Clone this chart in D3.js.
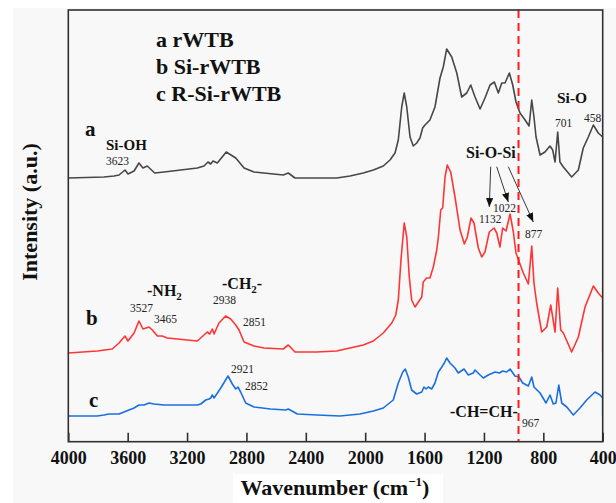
<!DOCTYPE html>
<html>
<head>
<meta charset="utf-8">
<script src="https://cdn.jsdelivr.net/npm/d3@7"></script>
<style>
  html, body { margin: 0; padding: 0; background: #ffffff; }
  svg { display: block; }
  text { font-family: "Liberation Serif", "Times New Roman", "DejaVu Serif", serif; }
</style>
</head>
<body>
<svg id="chart" width="616" height="503"></svg>
<script>
// ---------------- data ----------------
const xTicks = [4000, 3600, 3200, 2800, 2400, 2000, 1600, 1200, 800, 400];

const seriesNames = ["a rWTB", "b Si-rWTB", "c R-Si-rWTB"];

// rWTB (curve a)
const waveA = [4000,3760,3692,3658,3618,3598,3557,3524,3497,3468,3418,3355,3131,3086,3059,3041,3025,2996,2936,2872,2816,2749,2682,2552,2518,2473,2327,2192,2102,2013,1945,1878,1833,1799,1777,1754,1737,1720,1698,1676,1653,1631,1613,1597,1564,1530,1496,1474,1451,1417,1383,1350,1316,1289,1260,1226,1193,1159,1130,1103,1080,1058,1029,1006,984,957,923,896,878,863,849,822,789,755,737,721,703,688,665,609,564,531,497,463,430,400];
const intA = [264,265,266,267,272,268,271,279,274,276,269,270,274,276,280,278,281,279,290,284,274,270,269,267,269,264,264,264,266,269,272,276,282,289,302,335,349,335,305,296,299,304,314,317,322,335,364,375,393,385,369,345,349,357,345,333,344,357,360,349,359,359,369,357,340,329,322,316,342,325,305,287,290,296,292,280,310,280,275,265,272,294,305,317,309,305];

// Si-rWTB (curve b)
const waveB = [4000,3805,3704,3658,3618,3598,3557,3524,3497,3456,3434,3400,3367,3333,3131,3108,3064,3047,3030,3018,2985,2940,2906,2872,2850,2816,2749,2682,2552,2518,2473,2327,2192,2102,2013,1945,1878,1821,1794,1777,1759,1737,1720,1703,1687,1664,1642,1619,1609,1586,1564,1541,1518,1507,1491,1478,1462,1447,1424,1395,1361,1332,1312,1287,1267,1238,1215,1193,1164,1132,1114,1092,1074,1051,1024,1002,984,962,935,901,878,863,845,811,777,750,721,703,683,665,609,564,519,463,430,400,400];
const intB = [89,91,93,99,106,101,109,121,113,115,112,106,106,104,101,104,110,108,113,108,119,126,123,117,112,100,96,94,93,97,90,90,91,94,97,101,109,119,127,142,182,219,205,165,142,135,140,145,160,164,164,175,192,205,232,234,265,277,270,245,212,198,205,224,219,194,185,190,210,214,209,195,214,211,228,210,189,180,169,158,196,159,139,110,115,137,110,154,112,109,90,105,135,156,149,144,90];

// R-Si-rWTB (curve c)
const waveC = [4000,3805,3760,3726,3658,3625,3591,3557,3524,3490,3456,3423,3355,3131,3108,3074,3052,3041,3030,3018,2973,2924,2895,2872,2857,2839,2805,2749,2637,2535,2518,2457,2323,2170,2035,1945,1878,1811,1777,1747,1730,1710,1687,1653,1619,1604,1590,1575,1552,1530,1507,1484,1467,1451,1429,1395,1373,1334,1305,1272,1260,1226,1204,1171,1125,1096,1074,1047,1024,991,964,939,901,878,863,822,782,755,733,715,696,676,642,598,553,508,452,418,400,400];
const intC = [26,26,27,28,28,30,32,34,37,37,39,38,37,37,38,42,43,44,47,44,54,66,58,53,55,50,39,35,33,32,33,28,27,26,28,31,34,42,59,70,73,65,52,48,50,55,53,55,53,59,70,75,79,84,79,74,69,73,67,69,72,67,64,67,70,69,71,70,73,66,65,59,56,65,55,49,39,47,38,39,57,39,35,27,34,42,50,47,44,26];

const markerWave = 967;

// ---------------- layout ----------------
const FONT = "'Liberation Serif', 'Times New Roman', 'DejaVu Serif', serif";
const svg = d3.select("#chart").attr("font-family", FONT);
const W = 616, H = 503;
const pL = 68.3, pR = 602.7, pT = 10, pB = 441.7;

const x = d3.scaleLinear().domain([4000, 400]).range([pL, pR]);
const y = d3.scaleLinear().domain([0, 432]).range([442, 10]);

// backgrounds
svg.append("rect").attr("x", 0).attr("y", 0).attr("width", W).attr("height", H).attr("fill", "#ffffff");
svg.append("rect").attr("x", 13).attr("y", 8).attr("width", W - 13).attr("height", H - 8).attr("fill", "#f8f8f8");
svg.append("rect").attr("x", 233).attr("y", 474).attr("width", 210).attr("height", H - 474).attr("fill", "#ffffff");

const defs = svg.append("defs");
defs.append("clipPath").attr("id", "plotclip")
  .append("rect").attr("x", pL).attr("y", pT).attr("width", pR - pL).attr("height", pB - pT);

defs.append("marker").attr("id", "arrow").attr("viewBox", "0 0 10 10")
  .attr("refX", 10).attr("refY", 5).attr("markerWidth", 9).attr("markerHeight", 9)
  .attr("markerUnits", "userSpaceOnUse").attr("orient", "auto")
  .append("path").attr("d", "M0,1 L10,5 L0,9 Z").attr("fill", "#111");

const line = d3.line().x(d => x(d[0])).y(d => y(d[1]));

const series = [
  { w: waveA, v: intA, color: "#474747" },
  { w: waveB, v: intB, color: "#ff3535" },
  { w: waveC, v: intC, color: "#1a6fe0" }
];

const g = svg.append("g").attr("clip-path", "url(#plotclip)");
series.forEach(s => {
  g.append("path")
    .datum(s.w.map((w, i) => [w, s.v[i]]))
    .attr("d", line)
    .attr("fill", "none")
    .attr("stroke", s.color)
    .attr("stroke-width", 1.6)
    .attr("stroke-linejoin", "round");
});

// dashed marker line
svg.append("line")
  .attr("x1", x(markerWave)).attr("x2", x(markerWave))
  .attr("y1", pT).attr("y2", pB)
  .attr("stroke", "#ff1a1a").attr("stroke-width", 2)
  .attr("stroke-dasharray", "8,5");

// frame
svg.append("rect").attr("x", pL).attr("y", pT)
  .attr("width", pR - pL).attr("height", pB - pT)
  .attr("fill", "none").attr("stroke", "#303030").attr("stroke-width", 1.6);

// x axis
const xAxis = d3.axisBottom(x).tickValues(xTicks).tickSize(-9).tickPadding(10).tickFormat(d3.format("d"));
const ax = svg.append("g").attr("transform", `translate(0,${pB})`).call(xAxis);
ax.attr("font-family", FONT);
ax.select(".domain").remove();
ax.selectAll(".tick line").attr("stroke", "#303030").attr("stroke-width", 1.6);
ax.selectAll(".tick text")
  .attr("fill", "#111")
  .style("font-family", FONT)
  .style("font-size", "18px").style("font-weight", "bold");

// axis titles
const xt = svg.append("text").attr("x", 335).attr("y", 495).attr("text-anchor", "middle")
  .style("font-family", FONT)
  .style("font-size", "22px").style("font-weight", "bold").attr("fill", "#111");
xt.append("tspan").text("Wavenumber (cm");
xt.append("tspan").attr("dy", -9).style("font-size", "13px").text("\u22121");
xt.append("tspan").attr("dy", 9).text(")");

svg.append("text").attr("transform", "translate(37,212) rotate(-90)")
  .attr("text-anchor", "middle")
  .style("font-family", FONT)
  .style("font-size", "22px").style("font-weight", "bold").attr("fill", "#111")
  .text("Intensity (a.u.)");

// legend text
seriesNames.forEach((n, i) => {
  svg.append("text").attr("x", 156).attr("y", 47 + i * 27)
    .style("font-family", FONT)
    .style("font-size", "22px").style("font-weight", "bold").attr("fill", "#111").text(n);
});

// curve letters
const letters = [["a", 85, 136], ["b", 86, 325], ["c", 89, 407]];
letters.forEach(l => {
  svg.append("text").attr("x", l[1]).attr("y", l[2])
    .style("font-family", FONT)
    .style("font-size", "21px").style("font-weight", "bold").attr("fill", "#111").text(l[0]);
});

// bold group labels
function boldLabel(txt, px, py, size) {
  return svg.append("text").attr("x", px).attr("y", py)
    .style("font-family", FONT)
    .style("font-size", size + "px").style("font-weight", "bold").attr("fill", "#111").text(txt);
}
boldLabel("Si-OH", 106, 150, 15);
boldLabel("Si-O", 557, 103, 15.5);
boldLabel("Si-O-Si", 466, 158, 16);
boldLabel("-CH=CH-", 450, 417, 16);

const nh = svg.append("text").attr("x", 147).attr("y", 296)
  .style("font-family", FONT)
  .style("font-size", "16px").style("font-weight", "bold").attr("fill", "#111");
nh.append("tspan").text("-NH");
nh.append("tspan").attr("dy", 4).style("font-size", "11px").text("2");

const ch = svg.append("text").attr("x", 222).attr("y", 289)
  .style("font-family", FONT)
  .style("font-size", "16px").style("font-weight", "bold").attr("fill", "#111");
ch.append("tspan").text("-CH");
ch.append("tspan").attr("dy", 4).style("font-size", "11px").text("2");
ch.append("tspan").attr("dy", -4).text("-");

// peak numbers
const peakLabels = [
  ["3623", 106, 165], ["3527", 130, 312], ["3465", 154, 323],
  ["2938", 213, 304], ["2851", 243, 326], ["2921", 231, 373], ["2852", 245, 390],
  ["1132", 479, 223], ["1022", 493, 212], ["877", 525, 238],
  ["701", 555, 127], ["458", 584, 122], ["967", 522, 427]
];
peakLabels.forEach(p => {
  svg.append("text").attr("x", p[1]).attr("y", p[2])
    .style("font-family", FONT)
    .style("font-size", "11.5px").attr("fill", "#222").text(p[0]);
});

// arrows for Si-O-Si
const arrows = [[490.7, 166.7, 489.3, 207], [496.7, 166.7, 508.3, 202], [508.3, 166.7, 533.3, 222]];
arrows.forEach(a => {
  svg.append("line").attr("x1", a[0]).attr("y1", a[1]).attr("x2", a[2]).attr("y2", a[3])
    .attr("stroke", "#222").attr("stroke-width", 0.9).attr("marker-end", "url(#arrow)");
});
</script>
</body>
</html>
